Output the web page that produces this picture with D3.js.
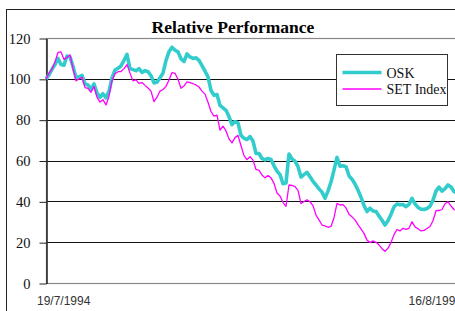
<!DOCTYPE html>
<html>
<head>
<meta charset="utf-8">
<script src="https://cdn.jsdelivr.net/npm/d3@7"></script>
<style>
  html, body { margin: 0; padding: 0; background: #fff; overflow: hidden; }
</style>
</head>
<body>
<div id="chart"></div>
<script>
// relative performance, rebased to 100 at 19/7/1994 (roughly weekly readings)
const osk = [
  100, 101.9, 104.7, 107, 110, 107, 106.7, 111.2, 110.8, 106,
  100.8, 101, 101.7, 97.5, 97, 94.9, 97.5, 93, 91, 92.7,
  90.7, 94, 100.5, 104.3, 105.2, 106.3, 109, 112, 105, 104.5,
  104, 105, 103.2, 104, 103.5, 101.5, 98, 98.4, 100.5, 102.8,
  109, 113.3, 115.5, 114, 113.2, 109.8, 108.5, 112.2, 110.7, 110,
  110.3, 109, 106.5, 103.8, 101, 94.3, 92, 92.3, 87, 85.8,
  84.6, 81.5, 77.6, 79.1, 78.4, 72.3, 70.9, 70.3, 71.7, 69.5,
  63.5, 63.4, 61, 60.3, 61, 60.5, 57.4, 54.8, 53.1, 48.6,
  49, 63.2, 60.8, 59.7, 57, 51.9, 53.1, 54.2, 52, 49.8,
  48, 46.1, 44.5, 41.5, 45, 49.5, 55.3, 61.5, 57.2, 57.4,
  57, 52.5, 50.8, 48.5, 45.5, 42, 38, 35, 36.6, 35.3,
  35, 32.8, 30.7, 28.4, 30.5, 33.7, 37.3, 38.7, 38.3, 38.4,
  37.4, 38.5, 41.5, 38.8, 37, 36.2, 36, 36.5, 37.6, 40.6,
  45, 47, 45, 46.2, 48, 47, 44.8, 44, 43.5
];

const setIndex = [
  100, 102.7, 104.8, 108.2, 113, 113.2, 109.5, 110.5, 111.7, 105,
  99, 100, 100.8, 95.7, 95.3, 93.4, 96.3, 91, 88.6, 89.8,
  87.2, 91.5, 99, 102.5, 103.5, 103.6, 105, 107, 102.8, 99,
  99.5, 97.8, 98.2, 96.8, 95.5, 94, 88.8, 91, 94, 94.8,
  96.3, 99.4, 103.1, 102.7, 99.8, 95.4, 96.5, 98.5, 98.1, 97.6,
  97, 96, 94, 92.5, 88.5, 84, 81.7, 82.2, 74.9, 76.8,
  74.5, 70.6, 68.6, 71.2, 72.3, 67.2, 62.4, 60.4, 61.9, 60.2,
  55.6, 55.2, 52.9, 51.5, 52.6, 51.5, 48.8, 44.1, 42.6, 39.4,
  37.6, 48, 47.8, 47.2, 45.4, 38.9, 39.9, 40.7, 39.8, 37.9,
  33.3, 30.9, 28.4, 28, 27.3, 27.7, 32, 39, 38.2, 38.4,
  36.8, 33.7, 32.4, 30.9, 28.6, 26.5, 24.3, 21, 19.8, 20.6,
  19.9, 18.7, 16.8, 15.5, 17, 19.8, 23.7, 26.2, 25.5, 26.8,
  26.3, 26.8, 30, 27.5, 26.6, 25.5, 25.8, 26.7, 27.7, 30.5,
  35.4, 35.5, 36, 38.8, 39.8, 37.7, 36, 35.5, 35
];

const seriesNames = ['OSK', 'SET Index'];
const yTicks = [0, 20, 40, 60, 80, 100, 120];
const dateLabels = ['19/7/1994', '16/8/1999'];

const width = 455;
const height = 311;
const plot = { left: 46, top: 38, right: 460, bottom: 283 };

const svg = d3.select('#chart')
  .append('svg')
  .attr('width', width)
  .attr('height', height);

// outer chart frame (runs off the right and bottom of the picture)
svg.append('rect')
  .attr('x', 6.5)
  .attr('y', 9.5)
  .attr('width', 480)
  .attr('height', 330)
  .attr('fill', 'none')
  .attr('stroke', '#222')
  .attr('stroke-width', 1);

svg.append('text')
  .attr('x', 233)
  .attr('y', 33)
  .attr('text-anchor', 'middle')
  .style('font-family', '"Liberation Serif", "Times New Roman", serif')
  .style('font-weight', 'bold')
  .style('font-size', '17.5px')
  .text('Relative Performance');

const xScale = d3.scaleLinear()
  .domain([0, osk.length - 1])
  .range([plot.left, plot.right]);

const yScale = d3.scaleLinear()
  .domain([0, 120])
  .range([plot.bottom, plot.top]);

// gridlines
svg.append('g')
  .selectAll('line')
  .data(yTicks.filter(t => t > 0 && t < 120))
  .enter().append('line')
  .attr('x1', plot.left)
  .attr('x2', plot.right + 20)
  .attr('y1', d => Math.round(yScale(d)) + 0.5)
  .attr('y2', d => Math.round(yScale(d)) + 0.5)
  .attr('stroke', '#111')
  .attr('stroke-width', 1);

// plot area border
svg.append('rect')
  .attr('x', plot.left + 0.5)
  .attr('y', plot.top + 0.5)
  .attr('width', plot.right + 20 - plot.left)
  .attr('height', plot.bottom - plot.top)
  .attr('fill', 'none')
  .attr('stroke', '#888')
  .attr('stroke-width', 1.2);

// y axis
const yAxis = svg.append('g')
  .attr('transform', `translate(${plot.left + 0.5},0.5)`)
  .call(d3.axisLeft(yScale).tickValues(yTicks).tickSize(7).tickPadding(9).tickSizeOuter(0));

yAxis.select('.domain').attr('stroke', '#222').attr('stroke-width', 1.5);
yAxis.selectAll('.tick line').attr('stroke', '#222');
yAxis.selectAll('.tick text')
  .attr('fill', '#111')
  .style('font-family', '"Liberation Serif", "Times New Roman", serif')
  .style('font-size', '14.5px');

// date labels at the ends of the x axis
svg.append('g')
  .selectAll('text')
  .data(dateLabels)
  .enter().append('text')
  .attr('x', (d, i) => i === 0 ? xScale(0) - 9 : xScale(osk.length - 1) + 2)
  .attr('y', 305)
  .attr('text-anchor', (d, i) => i === 0 ? 'start' : 'end')
  .attr('fill', '#333')
  .style('font-family', '"Liberation Sans", Arial, sans-serif')
  .style('font-size', '12px')
  .text(d => d);

const line = d3.line()
  .x((d, i) => xScale(i))
  .y(d => yScale(d));

svg.append('path')
  .datum(osk)
  .attr('fill', 'none')
  .attr('stroke', '#33CCCC')
  .attr('stroke-width', 3.6)
  .attr('stroke-linejoin', 'round')
  .attr('d', line);

svg.append('path')
  .datum(setIndex)
  .attr('fill', 'none')
  .attr('stroke', '#FF00FF')
  .attr('stroke-width', 1.3)
  .attr('stroke-linejoin', 'round')
  .attr('d', line);

// legend
const legend = svg.append('g')
  .attr('transform', 'translate(336.5,54.5)');

legend.append('rect')
  .attr('width', 111)
  .attr('height', 51)
  .attr('fill', '#fff')
  .attr('stroke', '#333')
  .attr('stroke-width', 1);

const legendItems = legend.selectAll('.legend-item')
  .data(seriesNames)
  .enter().append('g')
  .attr('class', 'legend-item')
  .attr('transform', (d, i) => `translate(0,${18 + i * 16.5})`);

legendItems.append('line')
  .attr('x1', 6)
  .attr('x2', 45)
  .attr('stroke', (d, i) => i === 0 ? '#33CCCC' : '#FF00FF')
  .attr('stroke-width', (d, i) => i === 0 ? 3.6 : 1.3);

legendItems.append('text')
  .attr('x', 50)
  .attr('y', 5)
  .attr('fill', '#111')
  .style('font-family', '"Liberation Serif", "Times New Roman", serif')
  .style('font-size', '14px')
  .text(d => d);
</script>
</body>
</html>
